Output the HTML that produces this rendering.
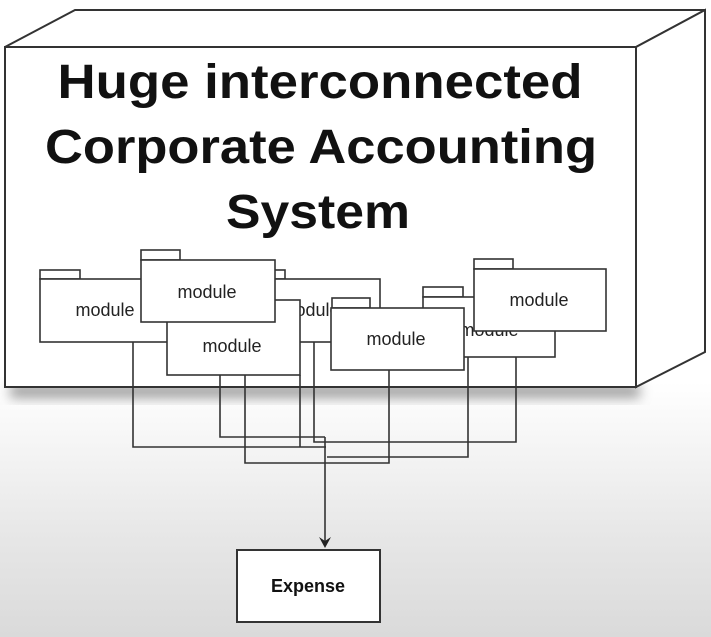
<!DOCTYPE html>
<html><head><style>
html,body{margin:0;padding:0;}
body{width:711px;height:637px;overflow:hidden;background:linear-gradient(to bottom,#fff 0%,#fff 60%,#e6e6e6 85%,#dadada 100%);}
svg{display:block;font-family:"Liberation Sans",Arial,sans-serif;}
</style></head><body>
<svg width="711" height="637" viewBox="0 0 711 637">
<defs>
<filter id="sh" x="-10%" y="-50%" width="120%" height="200%"><feGaussianBlur stdDeviation="6"/></filter>
</defs>
<rect x="10" y="384" width="630" height="14" fill="#777" filter="url(#sh)" opacity="0.7"/>
<polygon points="5,47 75,10 705,10 636,47" fill="#fff" stroke="#333" stroke-width="2"/>
<polygon points="636,47 705,10 705,352 636,387" fill="#fff" stroke="#333" stroke-width="2"/>
<rect x="5" y="47" width="631" height="340" fill="#fff" stroke="#333" stroke-width="2"/>
<g font-weight="bold" font-size="48" fill="#111" text-anchor="middle">
<text x="320" y="98" textLength="525" lengthAdjust="spacingAndGlyphs">Huge interconnected</text>
<text x="321" y="163" textLength="552" lengthAdjust="spacingAndGlyphs">Corporate Accounting</text>
<text x="318" y="228" textLength="184" lengthAdjust="spacingAndGlyphs">System</text>
</g>
<g fill="none" stroke="#333" stroke-width="1.6">
<polyline points="133,342 133,447 326,447"/>
<polyline points="220,322 220,437 325,437"/>
<polyline points="245,375 245,463 389,463 389,370"/>
<polyline points="300,375 300,447"/>
<polyline points="314,342 314,442 516,442 516,331"/>
<polyline points="468,357 468,457 327,457"/>
<line x1="325" y1="437" x2="325" y2="545"/>
</g>
<polygon points="319,537 325,548 331,537 325,541" fill="#222"/>
<g stroke="#333" stroke-width="1.6" fill="#fff">
<rect x="40" y="270" width="40" height="9"/>
<rect x="40" y="279" width="130" height="63"/>
<text x="105" y="316" stroke="none" fill="#222" font-size="18" text-anchor="middle">module</text>
<rect x="245" y="270" width="40" height="9"/>
<rect x="245" y="279" width="135" height="63"/>
<text x="310" y="316" stroke="none" fill="#222" font-size="18" text-anchor="middle">module</text>
<rect x="167" y="300" width="133" height="75"/>
<text x="232" y="352" stroke="none" fill="#222" font-size="18" text-anchor="middle">module</text>
<rect x="141" y="250" width="39" height="10"/>
<rect x="141" y="260" width="134" height="62"/>
<text x="207" y="298" stroke="none" fill="#222" font-size="18" text-anchor="middle">module</text>
<rect x="423" y="287" width="40" height="10"/>
<rect x="423" y="297" width="132" height="60"/>
<text x="489" y="336" stroke="none" fill="#222" font-size="18" text-anchor="middle">module</text>
<rect x="332" y="298" width="38" height="10"/>
<rect x="331" y="308" width="133" height="62"/>
<text x="396" y="345" stroke="none" fill="#222" font-size="18" text-anchor="middle">module</text>
<rect x="474" y="259" width="39" height="10"/>
<rect x="474" y="269" width="132" height="62"/>
<text x="539" y="306" stroke="none" fill="#222" font-size="18" text-anchor="middle">module</text>
</g>
<rect x="237" y="550" width="143" height="72" fill="#fff" stroke="#333" stroke-width="2"/>
<text x="308" y="592" font-size="18" font-weight="bold" text-anchor="middle" fill="#111">Expense</text>
</svg>
</body></html>
